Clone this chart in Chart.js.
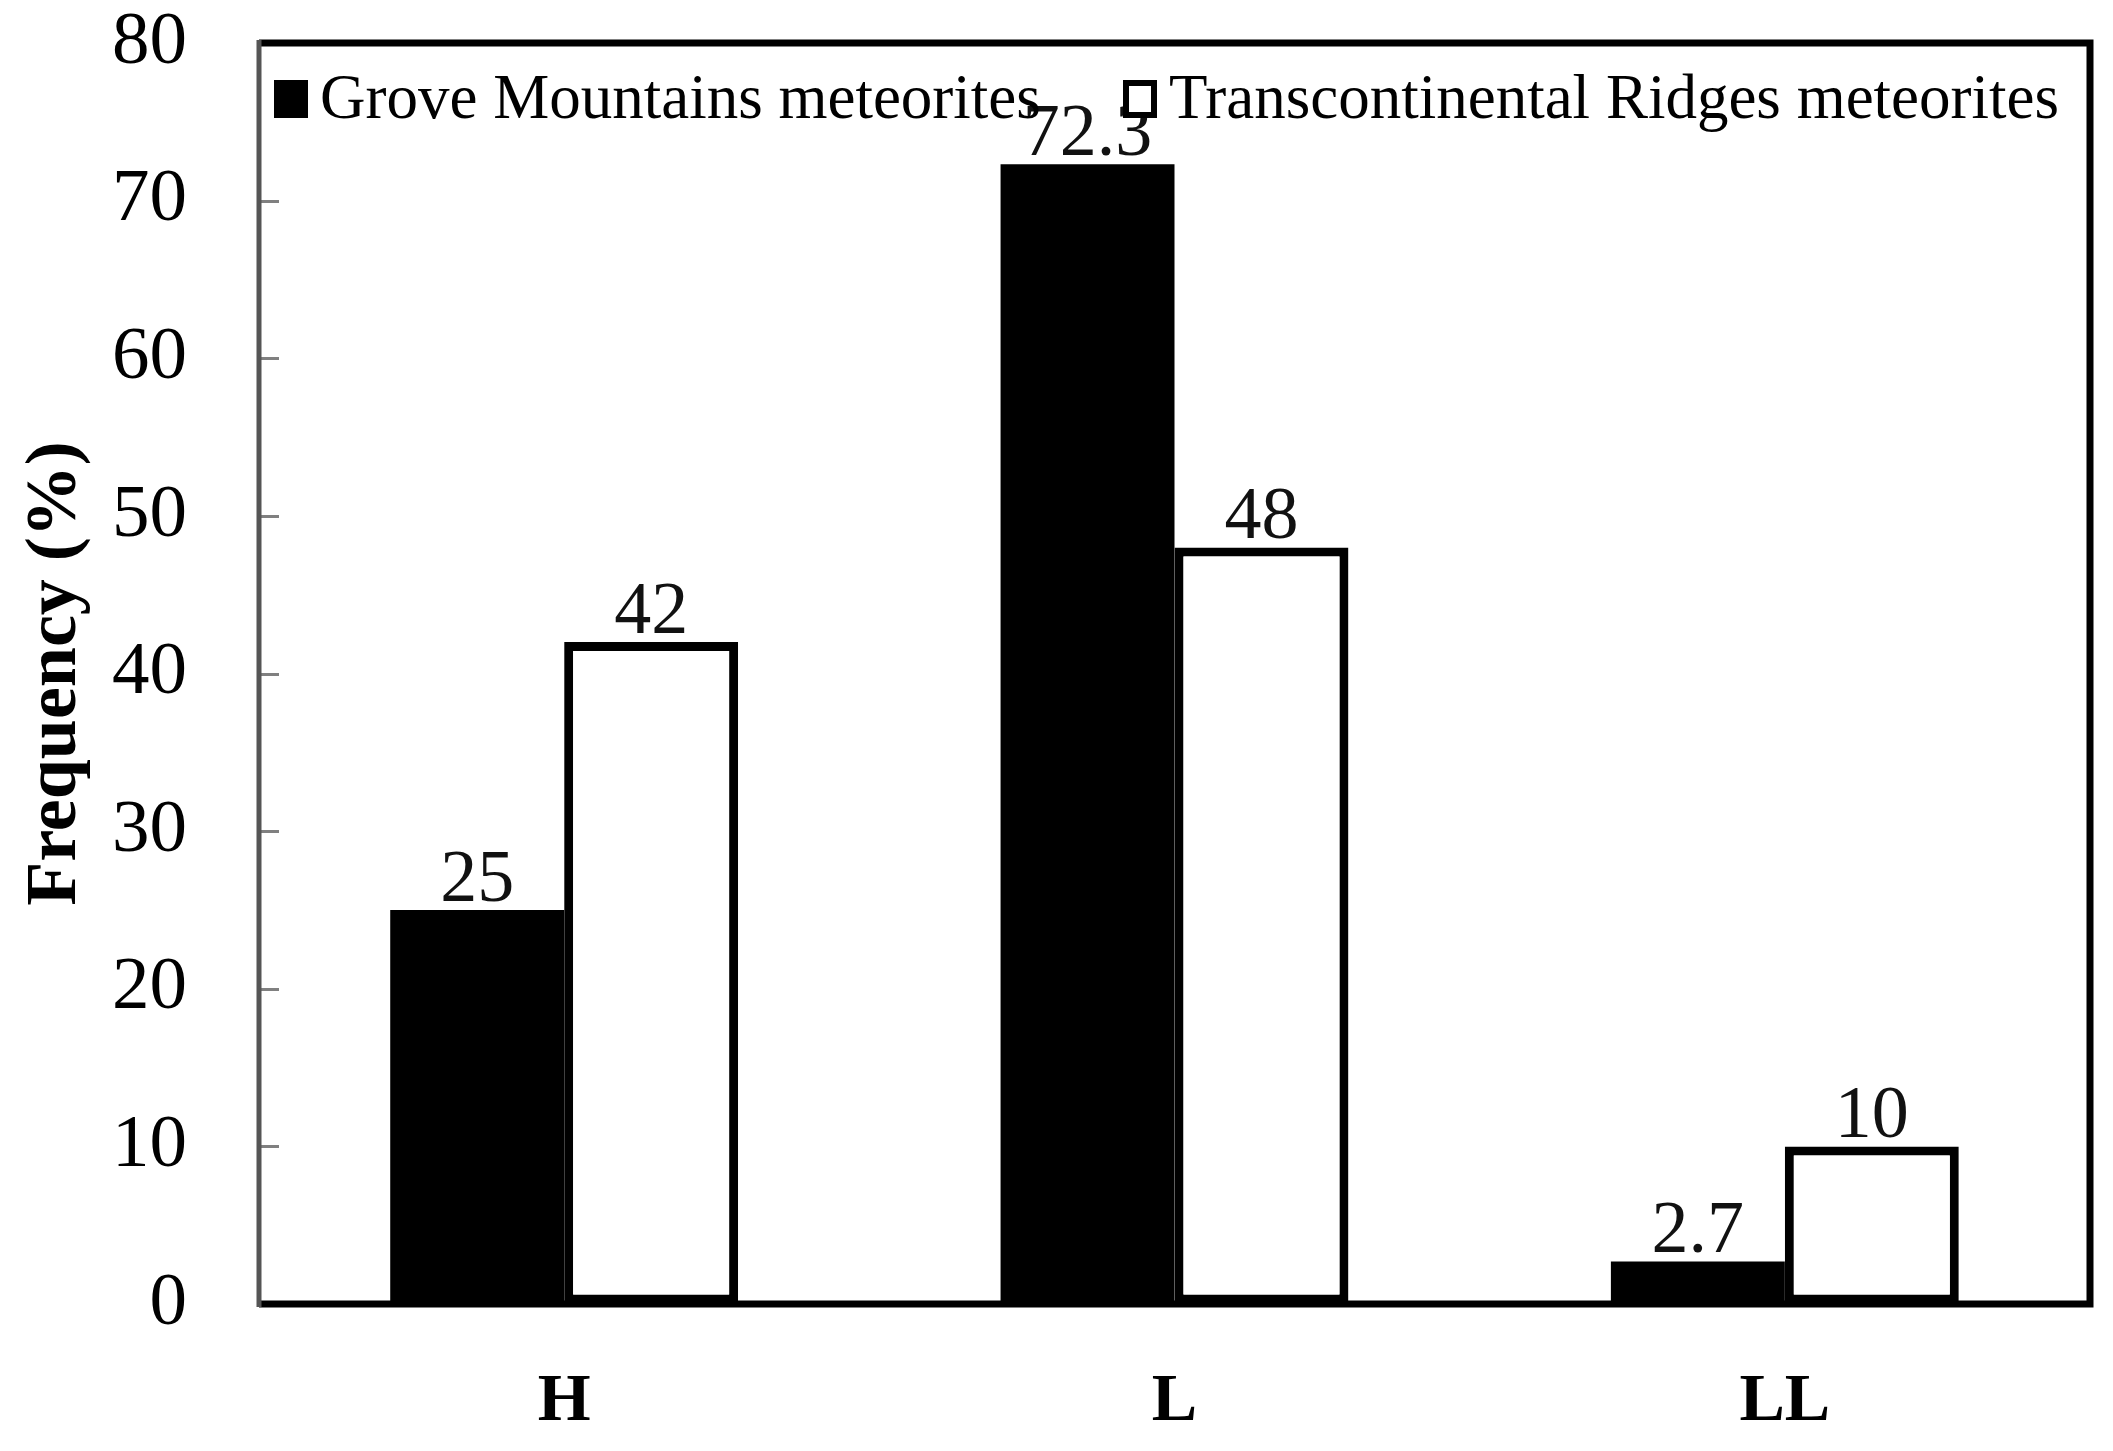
<!DOCTYPE html>
<html>
<head>
<meta charset="utf-8">
<script src="https://cdn.jsdelivr.net/npm/chart.js@4"></script>
<style>
  html, body { margin: 0; padding: 0; background: #fff; }
  #wrap { width: 2113px; height: 1451px; }
</style>
</head>
<body>
<div id="wrap"><canvas id="c" width="2113" height="1451"></canvas></div>
<script>
var categories = ['H', 'L', 'LL'];
var groveValues = [25, 72.3, 2.7];
var ridgesValues = [42, 48, 10];
var seriesNames = ['Grove Mountains meteorites', 'Transcontinental Ridges meteorites'];
var yTicks = [0, 10, 20, 30, 40, 50, 60, 70, 80];

var serif = '"Liberation Serif", "Times New Roman", serif';

// numbers above each bar
var valueLabels = {
    id: 'valueLabels',
    afterDatasetsDraw: function (chart) {
        var ctx = chart.ctx;
        ctx.save();
        ctx.font = '74px ' + serif;
        ctx.fillStyle = '#111';
        ctx.textAlign = 'center';
        ctx.textBaseline = 'alphabetic';
        chart.data.datasets.forEach(function (ds, i) {
            chart.getDatasetMeta(i).data.forEach(function (bar, j) {
                ctx.fillText(String(ds.data[j]), bar.x, bar.y - 9);
            });
        });
        ctx.restore();
    }
};

// box round the plot + inward ticks + legend inside the box
var frame = {
    id: 'frame',
    afterDraw: function (chart) {
        var ctx = chart.ctx;
        var a = chart.chartArea;
        var y = chart.scales.y;
        ctx.save();

        ctx.strokeStyle = '#808080';
        ctx.lineWidth = 3;
        yTicks.forEach(function (v) {
            var py = Math.round(y.getPixelForValue(v)) + 0.5;
            ctx.beginPath();
            ctx.moveTo(a.left, py);
            ctx.lineTo(a.left + 20, py);
            ctx.stroke();
        });

        ctx.strokeStyle = '#000';
        ctx.lineWidth = 7;
        ctx.beginPath();
        ctx.moveTo(a.left, a.top);
        ctx.lineTo(a.right, a.top);
        ctx.lineTo(a.right, a.bottom);
        ctx.lineTo(a.left, a.bottom);
        ctx.stroke();
        ctx.strokeStyle = '#555';
        ctx.lineWidth = 5;
        ctx.beginPath();
        ctx.moveTo(a.left, a.top - 3);
        ctx.lineTo(a.left, a.bottom + 3);
        ctx.stroke();

        // legend
        ctx.font = '63px ' + serif;
        ctx.textBaseline = 'alphabetic';
        ctx.textAlign = 'left';
        var lx = [274, 1123];
        chart.data.datasets.forEach(function (ds, i) {
            var x = lx[i], top = 80, w = 34, h = 38;
            if (i === 0) {
                ctx.fillStyle = '#000';
                ctx.fillRect(x, top, w, h);
            } else {
                ctx.fillStyle = '#fff';
                ctx.fillRect(x, top, w, h);
                ctx.strokeStyle = '#000';
                ctx.lineWidth = 6;
                ctx.strokeRect(x + 3, top + 3, w - 6, h - 6);
            }
            ctx.fillStyle = '#000';
            ctx.fillText(ds.label, x + w + 12, top + h);
        });
        ctx.restore();
    }
};

new Chart(document.getElementById('c'), {
    type: 'bar',
    data: {
        labels: categories,
        datasets: [
            {
                label: seriesNames[0],
                data: groveValues,
                backgroundColor: '#000',
                borderWidth: 0
            },
            {
                label: seriesNames[1],
                data: ridgesValues,
                backgroundColor: '#fff',
                borderColor: '#000',
                borderWidth: 9,
                borderSkipped: false
            }
        ]
    },
    options: {
        responsive: false,
        devicePixelRatio: 1,
        animation: false,
        layout: { padding: { left: 0, right: 23, top: 43, bottom: 0 } },
        plugins: {
            legend: { display: false },
            tooltip: { enabled: false }
        },
        datasets: {
            bar: { categoryPercentage: 0.57, barPercentage: 1.0 }
        },
        scales: {
            x: {
                grid: { display: false },
                border: { display: false },
                ticks: {
                    color: '#000',
                    padding: 50,
                    font: { family: serif, size: 68, weight: 'bold' }
                },
                afterFit: function (s) { s.height = 147; }
            },
            y: {
                min: 0,
                max: 80,
                afterBuildTicks: function (s) {
                    s.ticks = yTicks.map(function (v) { return { value: v }; });
                },
                grid: { drawOnChartArea: false, drawTicks: false },
                border: { display: false },
                ticks: {
                    color: '#000',
                    padding: 72,
                    font: { family: serif, size: 75 }
                },
                title: {
                    display: true,
                    text: 'Frequency (%)',
                    color: '#000',
                    padding: { top: 13, bottom: 0 },
                    font: { family: serif, size: 72, weight: 'bold' }
                },
                afterFit: function (s) {
                    s.width = 259;
                    s.paddingTop = 0;
                    s.paddingBottom = 0;
                }
            }
        }
    },
    plugins: [valueLabels, frame]
});
</script>
</body>
</html>
